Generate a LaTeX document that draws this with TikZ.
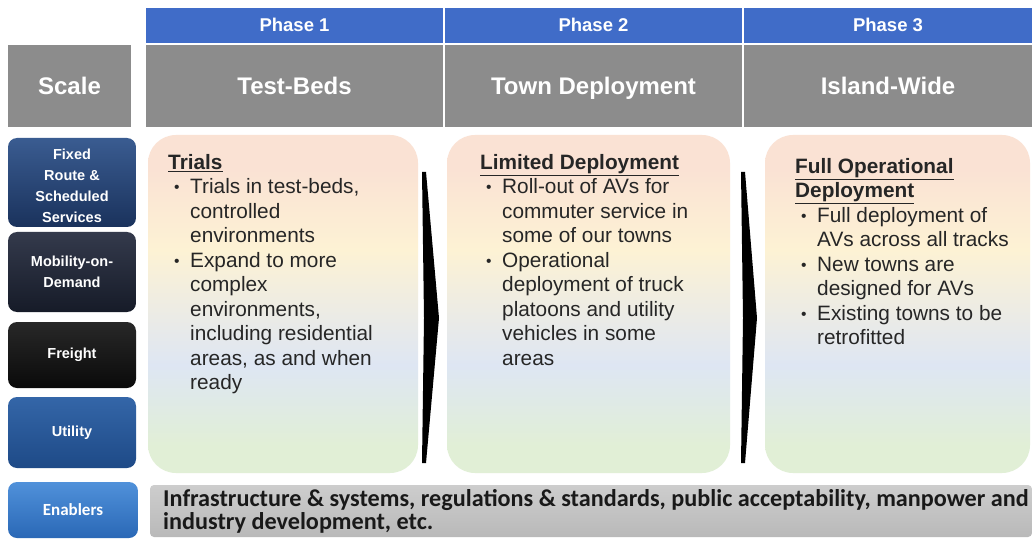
\documentclass[tikz,border=0pt]{standalone}
\usepackage{fontspec}
\setmainfont{Liberation Sans}
\newfontfamily\calib{Carlito}

% palette
\definecolor{hdrblue}{RGB}{64,108,200}
\definecolor{hdrgrey}{RGB}{140,140,140}
\definecolor{ppeach}{RGB}{250,226,212}
\definecolor{pyellow}{RGB}{253,242,212}
\definecolor{pblue}{RGB}{222,230,243}
\definecolor{pgreen}{RGB}{225,239,214}
\definecolor{txt}{RGB}{38,38,38}

% soft multi-band fill of the phase panels
\pgfdeclareverticalshading{phasefill}{100bp}{color(0bp)=(pgreen); color(29bp)=(pgreen); color(41bp)=(pblue); color(58bp)=(pyellow); color(70bp)=(ppeach); color(100bp)=(ppeach)}

\tikzset{
  bluehdr/.style={fill=hdrblue, text=white, inner sep=0pt, text height=13pt, text depth=0pt,
    font=\bfseries\fontsize{18.5}{20}\selectfont},
  greyhdr/.style={fill=hdrgrey, text=white, inner sep=0pt, text height=17pt, text depth=0pt,
    font=\bfseries\fontsize{24}{26}\selectfont},
  panel/.style={rounded corners=28pt, shading=phasefill, inner sep=0pt},
  paneltext/.style={anchor=north west, align=left, inner sep=0pt, text=txt,
    font=\fontsize{20.8}{24.5}\selectfont},
  track/.style={rounded corners=9pt, text=white, align=center, inner sep=0pt,
    font=\bfseries\fontsize{14.5}{21}\selectfont},
  tracklabel/.style={text=white, align=center, inner sep=0pt,
    font=\bfseries\fontsize{14.5}{21}\selectfont},
  chevron/.style={fill=black},
}
\newcommand{\bl}{\makebox[22pt][l]{\hspace*{6pt}\raisebox{1pt}{\scalebox{0.75}{•}}}}
\newcommand{\ind}{\hspace*{22pt}}

\begin{document}
\begin{tikzpicture}[x=1pt,y=-1pt]
\useasboundingbox (0,0) rectangle (1032,545);
\fill[white] (0,0) rectangle (1032,545);

% column headers
\node[bluehdr, minimum width=297pt, minimum height=35pt] (ph1) at (294.5,25.5) {Phase 1};
\node[bluehdr, minimum width=297pt, minimum height=35pt] (ph2) at (593.5,25.5) {Phase 2};
\node[bluehdr, minimum width=288pt, minimum height=35pt] (ph3) at (888,25.5) {Phase 3};
\node[greyhdr, minimum width=123pt, minimum height=82pt] (scale) at (69.5,86) {Scale};
\node[greyhdr, minimum width=297pt, minimum height=82pt] (sc1) at (294.5,86) {Test-Beds};
\node[greyhdr, minimum width=297pt, minimum height=82pt] (sc2) at (593.5,86) {Town Deployment};
\node[greyhdr, minimum width=288pt, minimum height=82pt] (sc3) at (888,86) {Island-Wide};

% row labels
\node[track, top color={rgb,255:red,58;green,92;blue,145}, bottom color={rgb,255:red,26;green,50;blue,92},
  minimum width=128pt, minimum height=89pt] (fixed) at (72,182.5) {};
\node[tracklabel] (fixedlbl) at (72,185.5) {Fixed\\Route \&\\Scheduled\\Services};
\node[track, top color={rgb,255:red,52;green,58;blue,76}, bottom color={rgb,255:red,22;green,27;blue,40},
  minimum width=128pt, minimum height=80pt] (mod) at (72,272) {Mobility-on-\\Demand};
\node[track, top color={rgb,255:red,40;green,40;blue,40}, bottom color={rgb,255:red,10;green,10;blue,10},
  minimum width=128pt, minimum height=66pt] (freight) at (72,355) {Freight};
\node[track, top color={rgb,255:red,52;green,102;blue,168}, bottom color={rgb,255:red,30;green,74;blue,135},
  minimum width=128pt, minimum height=71pt] (utility) at (72,432.5) {Utility};
\node[track, top color={rgb,255:red,80;green,145;blue,218}, bottom color={rgb,255:red,42;green,104;blue,182},
  minimum width=130pt, minimum height=56pt, font=\calib\bfseries\fontsize{17}{19}\selectfont] (enablers) at (73,510) {Enablers};

% phase panels
\node[panel, minimum width=270pt, minimum height=338pt] (b1) at (283,304) {};
\node[panel, minimum width=283pt, minimum height=338pt] (b2) at (588.5,304) {};
\node[panel, minimum width=265pt, minimum height=338pt] (b3) at (897.5,304) {};

\node[paneltext] (t1) at (168,154) {%
\underline{\textbf{Trials}}\\
\bl Trials in test-beds,\\
\ind controlled\\
\ind environments\\
\bl Expand to more\\
\ind complex\\
\ind environments,\\
\ind including residential\\
\ind areas, as and when\\
\ind ready};

\node[paneltext] (t2) at (480,154) {%
\underline{\textbf{Limited Deployment}}\\
\bl Roll-out of AVs for\\
\ind commuter service in\\
\ind some of our towns\\
\bl Operational\\
\ind deployment of truck\\
\ind platoons and utility\\
\ind vehicles in some\\
\ind areas};

\node[paneltext] (t3) at (795,158) {%
\underline{\textbf{Full Operational}}\\
\underline{\textbf{Deployment}}\\
\bl Full deployment of\\
\ind AVs across all tracks\\
\bl New towns are\\
\ind designed for AVs\\
\bl Existing towns to be\\
\ind retrofitted};

% progression chevrons
\fill[chevron] (422,172) -- (426,172) -- (439,318) -- (426,463) -- (422,463) -- (424,318) -- cycle;
\fill[chevron] (741,172) -- (745,172) -- (757,318) -- (745,463) -- (741,463) -- (743,318) -- cycle;

% enablers bar
\node[rounded corners=4pt, top color={rgb,255:red,205;green,205;blue,205}, bottom color={rgb,255:red,185;green,185;blue,185},
  minimum width=882pt, minimum height=52pt, inner sep=0pt] (enbar) at (591,511) {};
\node[anchor=west, align=left, inner sep=0pt, text=black!90,
  font=\calib\bfseries\fontsize{24.2}{23}\selectfont] (entext) at (163,511)
  {Infrastructure \& systems, regulations \& standards, public acceptability, manpower and\\
   industry development, etc.};
\end{tikzpicture}
\end{document}
